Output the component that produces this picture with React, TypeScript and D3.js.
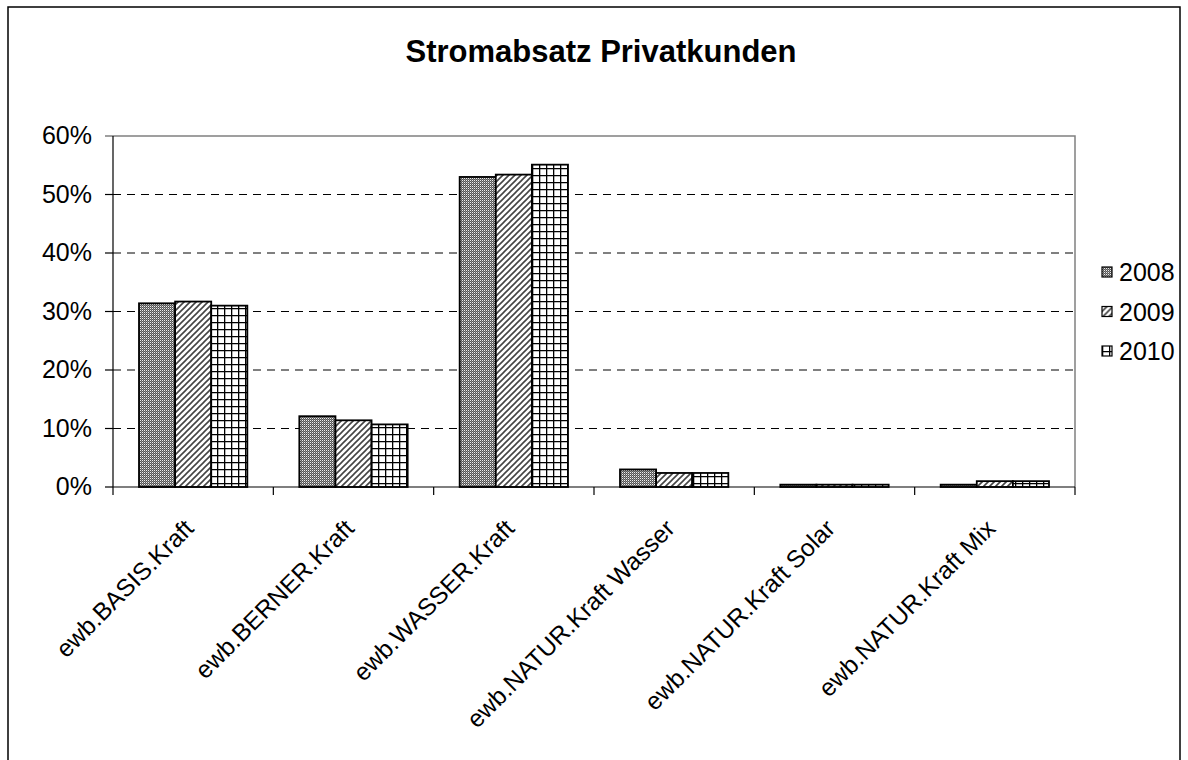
import React from "react";
import * as d3 from "d3";

const categories = [
  "ewb.BASIS.Kraft",
  "ewb.BERNER.Kraft",
  "ewb.WASSER.Kraft",
  "ewb.NATUR.Kraft Wasser",
  "ewb.NATUR.Kraft Solar",
  "ewb.NATUR.Kraft Mix",
];
const years = ["2008", "2009", "2010"];
const v2008 = [0.314, 0.121, 0.53, 0.03, 0.004, 0.004];
const v2009 = [0.317, 0.114, 0.534, 0.024, 0.004, 0.01];
const v2010 = [0.31, 0.107, 0.551, 0.024, 0.004, 0.01];
const yTicks = [0, 0.1, 0.2, 0.3, 0.4, 0.5, 0.6];

const W = 1188;
const H = 760;
const font = "'Liberation Sans', Arial, sans-serif";

export default function App() {
  const left = 113, right = 1075, top = 136, bottom = 487;
  const x = d3.scaleBand().domain(categories).range([left, right]);
  const inner = d3.scaleBand().domain(years).range([0, x.bandwidth()]).paddingOuter(0.72).paddingInner(0);
  const y = d3.scaleLinear().domain([0, 0.6]).range([bottom, top]);
  const series = [v2008, v2009, v2010];
  const fills = ["url(#p2008)", "url(#p2009)", "url(#p2010)"];
  const fmt = d3.format(".0%");

  return (
    <svg width={W} height={H} style={{ position: "absolute", left: 0, top: 0 }} fontFamily={font}>
      <defs>
        <pattern id="p2008" width="2" height="2" patternUnits="userSpaceOnUse">
          <rect width="2" height="2" fill="#555" />
          <rect x="0" y="0" width="1" height="1" fill="#eee" />
          <rect x="1" y="1" width="1" height="1" fill="#8a8a8a" />
        </pattern>
        <pattern id="p2009" width="6" height="6" patternUnits="userSpaceOnUse">
          <rect width="6" height="6" fill="#fff" />
          <path d="M-1,7 L7,-1 M-4,4 L4,-4 M2,10 L10,2" stroke="#444" strokeWidth="1.6" />
        </pattern>
        <pattern id="p2010" width="7" height="7" patternUnits="userSpaceOnUse">
          <rect width="7" height="7" fill="#fff" />
          <path d="M0,0 H7 M0,0 V7" stroke="#000" strokeWidth="2.6" />
        </pattern>
      </defs>
      <rect x={8} y={7} width={1172} height={770} fill="#fff" stroke="#000" strokeWidth={1.5} />
      <text x={601} y={62} textAnchor="middle" fontSize={31} fontWeight="bold">
        Stromabsatz Privatkunden
      </text>
      {/* plot border */}
      <path d={`M${left - 8},${top} H${right} V${bottom}`} fill="none" stroke="#808080" strokeWidth={1.5} />
      {yTicks.filter(t => t > 0 && t < 0.6).map(t => (
        <line key={t} x1={left} x2={right} y1={y(t)} y2={y(t)} stroke="#000" strokeDasharray="8,6" strokeWidth={1} />
      ))}
      {categories.map((c, i) =>
        series.map((s, j) => (
          <rect
            key={c + j}
            x={(x(c) as number) + (inner(years[j]) as number)}
            y={y(s[i])}
            width={inner.bandwidth()}
            height={bottom - y(s[i])}
            fill={fills[j]}
            stroke="#000"
            strokeWidth={1.8}
          />
        ))
      )}
      <line x1={left} x2={right} y1={bottom} y2={bottom} stroke="#000" strokeWidth={1.2} />
      <line x1={left} x2={left} y1={top} y2={bottom} stroke="#000" strokeWidth={1.2} />
      {yTicks.map(t => (
        <g key={t}>
          {t < 0.6 && <line x1={left - 8} x2={left} y1={y(t)} y2={y(t)} stroke="#000" strokeWidth={1.2} />}
          <text x={92} y={y(t) + 8} textAnchor="end" fontSize={25}>
            {fmt(t)}
          </text>
        </g>
      ))}
      {d3.range(categories.length + 1).map(i => {
        const xx = left + i * x.step();
        return <line key={i} x1={xx} x2={xx} y1={bottom} y2={bottom + 8} stroke="#000" strokeWidth={1.2} />;
      })}
      {categories.map(c => {
        const cx = (x(c) as number) + x.bandwidth() / 2 + 2;
        return (
          <text key={c} transform={`translate(${cx},${bottom + 43}) rotate(-45)`} textAnchor="end" fontSize={24.5}>
            {c}
          </text>
        );
      })}
      {years.map((yr, j) => (
        <g key={yr} transform={`translate(1102,${272 + j * 39.5})`}>
          <rect x={0} y={-5} width={10} height={10} fill={fills[j]} stroke="#000" strokeWidth={1.2} />
          <text x={17} y={9} fontSize={25}>
            {yr}
          </text>
        </g>
      ))}
    </svg>
  );
}
